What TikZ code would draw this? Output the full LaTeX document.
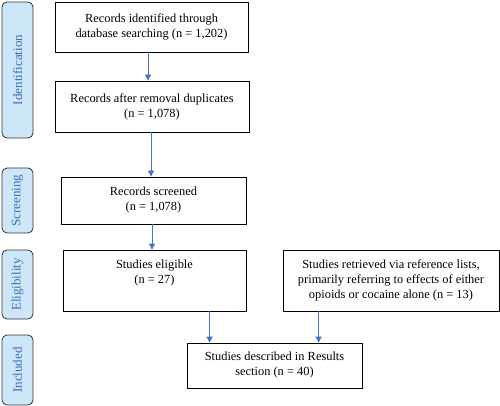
\documentclass[tikz,border=0pt]{standalone}
\usepackage{fontspec}
\setmainfont{Liberation Serif}
\usepackage{xcolor}
\usetikzlibrary{shapes,arrows.meta,positioning}

\definecolor{phasefill}{HTML}{CDE6F8}
\definecolor{phasetext}{HTML}{3D6FB5}
\definecolor{arrowblue}{HTML}{4472C4}

\begin{document}
\begin{tikzpicture}[
        x=1pt, y=-1pt,
        box/.style={rectangle, draw, thick, align=center, inner sep=2pt, font=\fontsize{12.4}{15}\selectfont},
        phase/.style={rectangle, draw=black!80, thick, fill=phasefill, rounded corners=5pt, minimum height=31pt, text=phasetext, rotate=90, font=\fontsize{13}{15}\selectfont},
        arrow/.style={-{Triangle[width=6pt,length=6pt]}, arrowblue, line width=0.8pt}
    ]
        \useasboundingbox (0,0) rectangle (500,406);

        % Phase labels
        \node[phase, minimum width=136pt] (ident) at (17.5,70) {Identification};
        \node[phase, minimum width=65pt] (screen) at (17.5,200.5) {Screening};
        \node[phase, minimum width=69pt] (elig) at (17.5,284.5) {Eligibility};
        \node[phase, minimum width=70pt] (incl) at (17.5,370) {Included};

        % Blocks
        \node[box, minimum width=193pt, minimum height=50pt] (found) at (151.5,27) {Records identified through\\database searching (n = 1,202)};
        \node[box, minimum width=194pt, minimum height=51pt] (nodup) at (152,106.5) {Records after removal duplicates\\(n = 1,078)};
        \node[box, minimum width=185pt, minimum height=47pt] (screened) at (153.5,200.5) {Records screened\\(n = 1,078)};
        \node[box, minimum width=183pt, minimum height=61pt] (eligible) at (154.5,280.5) {Studies eligible\\(n = 27)\\[2pt]};
        \node[box, minimum width=216pt, minimum height=61pt] (reflist) at (391,280.5) {Studies retrieved via reference lists,\\primarily referring to effects of either\\opioids or cocaine alone (n = 13)};
        \node[box, minimum width=175pt, minimum height=45pt] (results) at (274.5,365.5) {Studies described in Results\\section (n = 40)};

        % Arrows
        \draw[arrow] ([xshift=-3.5pt]found.south) -- ([xshift=-3.5pt]found.south |- nodup.north);
        \draw[arrow] ([xshift=-1pt]nodup.south) -- ([xshift=-1pt]nodup.south |- screened.north);
        \draw[arrow] ([xshift=-1.5pt]screened.south) -- ([xshift=-1.5pt]screened.south |- eligible.north);
        \draw[arrow] ([xshift=23pt]results.north west |- eligible.south) -- ([xshift=23pt]results.north west);
        \draw[arrow] ([xshift=36pt]reflist.south west) -- ([xshift=36pt]reflist.south west |- results.north);

    \end{tikzpicture}
\end{document}
